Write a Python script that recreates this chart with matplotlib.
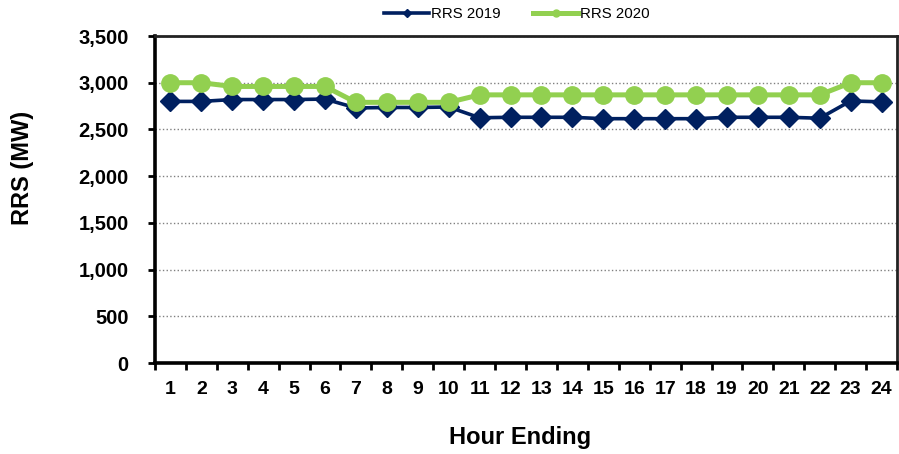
import matplotlib.pyplot as plt
import matplotlib.ticker as mticker
import numpy as np

plt.rcParams['font.family'] = ['Liberation Sans', 'DejaVu Sans']

# データ
hours = list(range(1, 25))
rrs_2019 = [2800, 2800, 2820, 2820, 2820, 2825, 2730, 2735, 2735, 2740, 2625, 2630,
            2630, 2630, 2615, 2615, 2615, 2615, 2630, 2630, 2630, 2620, 2805, 2795]
rrs_2020 = [3000, 3000, 2960, 2960, 2960, 2960, 2790, 2790, 2790, 2790, 2870, 2870,
            2870, 2870, 2870, 2870, 2870, 2870, 2870, 2870, 2870, 2870, 3000, 3000]

navy = '#002060'
green = '#92D050'

fig = plt.figure(figsize=(8.99, 4.54), dpi=100)
ax = fig.add_axes([0.1724, 0.2004, 0.8254, 0.7203])

ax.plot(hours, rrs_2019, color=navy, lw=2.6, marker='D', ms=10, label='RRS 2019', zorder=3)
ax.plot(hours, rrs_2020, color=green, lw=3.6, marker='o', ms=12.5, label='RRS 2020', zorder=4)

# 軸
ax.set_xlim(0.5, 24.5)
ax.set_ylim(0, 3500)
ax.yaxis.set_major_locator(mticker.MultipleLocator(500))
ax.yaxis.set_major_formatter(mticker.StrMethodFormatter('{x:,.0f}'))
ax.set_xticks(np.arange(0.5, 25, 1))
ax.set_xticklabels([])
ax.set_xticks(hours, minor=True)
ax.set_xticklabels([str(h) for h in hours], minor=True)
ax.tick_params(axis='x', which='major', length=5, width=2, direction='out')
ax.tick_params(axis='x', which='minor', length=0, pad=13, labelsize=14)
ax.tick_params(axis='y', length=5, width=2, direction='out', pad=14, labelsize=14.5)
for lab in ax.get_xticklabels(minor=True) + ax.get_yticklabels():
    lab.set_fontweight('bold')

ax.yaxis.grid(True, color='#808080', linestyle=':', linewidth=1.0)
ax.set_axisbelow(True)
for s in ['left', 'bottom']:
    ax.spines[s].set_linewidth(2.6)
    ax.spines[s].set_color('black')
for s in ['top', 'right']:
    ax.spines[s].set_linewidth(2.0)
    ax.spines[s].set_color('#222222')

# 軸ラベル
fig.text(0.5784, 0.0374, 'Hour Ending', fontsize=17, fontweight='bold', ha='center', va='center')
fig.text(0.0245, 0.629, 'RRS (MW)', fontsize=17, fontweight='bold', ha='center', va='center',
         rotation=90)

leg = ax.legend(loc='center', bbox_to_anchor=(0.575, 0.969), bbox_transform=fig.transFigure,
                ncol=2, frameon=False, fontsize=10.8, markerscale=0.4,
                handlelength=3.0, handletextpad=0.1, columnspacing=2.2)

plt.savefig('out.png', dpi=100)
